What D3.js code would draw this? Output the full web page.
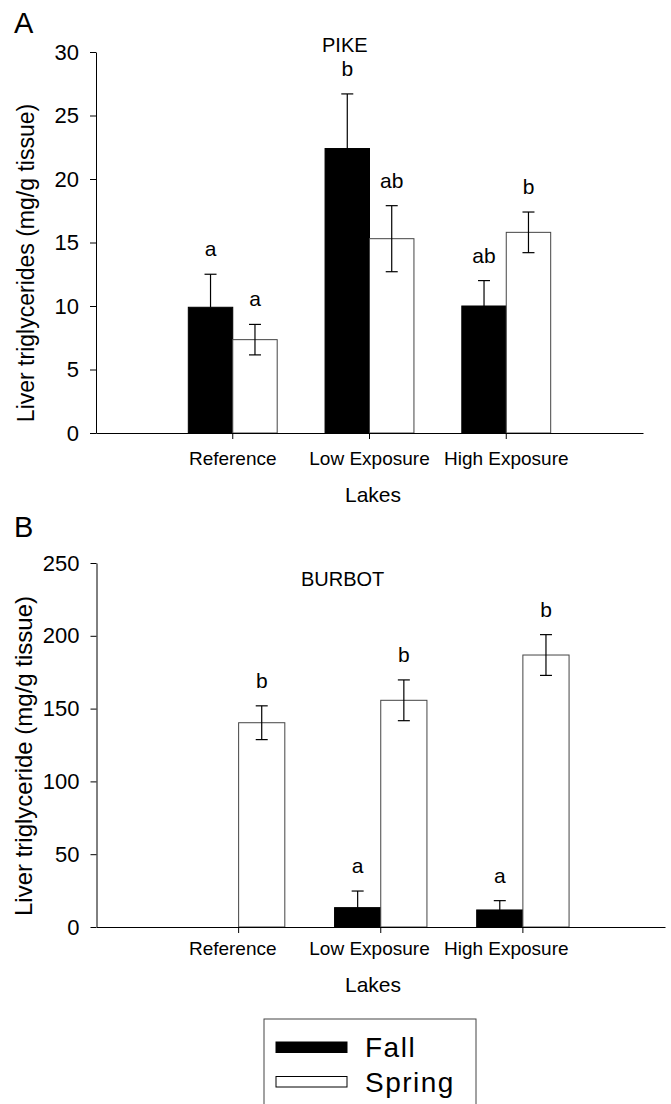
<!DOCTYPE html>
<html>
<head>
<meta charset="utf-8">
<script src="https://cdn.jsdelivr.net/npm/d3@7"></script>
<style>
  body { margin: 0; background: #fff; }
  text { font-family: "Liberation Sans", Arial, sans-serif; fill: #000; }
</style>
</head>
<body>
<div id="chart"></div>
<script>
// data
const lakes = ["Reference", "Low Exposure", "High Exposure"];
const seasons = ["Fall", "Spring"];

const pikeFall = [9.9, 22.4, 10.0];
const pikeFallErr = [2.6, 4.3, 2.0];
const pikeSpring = [7.35, 15.3, 15.8];
const pikeSpringErr = [1.2, 2.6, 1.6];
const pikeFallLetters = ["a", "b", "ab"];
const pikeSpringLetters = ["a", "ab", "b"];
const pikeTicks = [0, 5, 10, 15, 20, 25, 30];

const burbotFall = [null, 13.3, 11.7];
const burbotFallErr = [null, 11.4, 6.4];
const burbotSpring = [140.3, 155.7, 186.8];
const burbotSpringErr = [11.6, 14, 14];
const burbotFallLetters = ["", "a", "a"];
const burbotSpringLetters = ["b", "b", "b"];
const burbotTicks = [0, 50, 100, 150, 200, 250];

var width = 671, height = 1104;

var svg = d3.select("#chart")
  .append("svg")
  .attr("width", width)
  .attr("height", height);

// x scale of panel A, also used for the category labels of both panels
var xA = d3.scaleBand().domain(lakes).range([96, 643]).paddingInner(0).paddingOuter(0.5);
var xB = d3.scaleBand().domain(lakes).range([96.5, 665]).paddingInner(0).paddingOuter(0.5);

function drawPanel(p) {
  var g = svg.append("g");
  var x = p.x;
  var y = d3.scaleLinear().domain([p.ticks[0], p.ticks[p.ticks.length - 1]]).range(p.yRange);
  var barW = x.step() * 0.325;
  var cx = d => x(d) + x.bandwidth() / 2;

  var rows = [];
  lakes.forEach((lake, i) => {
    rows.push({ lake: lake, season: "Fall", v: p.fall[i], e: p.fallErr[i], l: p.fallLetters[i], off: -barW });
    rows.push({ lake: lake, season: "Spring", v: p.spring[i], e: p.springErr[i], l: p.springLetters[i], off: 0 });
  });
  var shown = rows.filter(d => d.v != null);

  // bars
  g.selectAll("rect.bar")
    .data(shown)
    .enter()
    .append("rect")
    .attr("class", "bar")
    .attr("x", d => cx(d.lake) + d.off)
    .attr("y", d => y(d.v))
    .attr("width", barW)
    .attr("height", d => y(0) - y(d.v))
    .attr("fill", d => d.season == "Fall" ? "#000" : "#fff")
    .attr("stroke", d => d.season == "Fall" ? "#000" : "#444")
    .attr("stroke-width", 1);

  // error bars (upper only for fall, both ways for spring)
  var cap = 6;
  shown.forEach(d => {
    var ex = cx(d.lake) + d.off + barW / 2;
    var top = y(d.v + d.e);
    var bot = d.season == "Fall" ? y(d.v) : y(d.v - d.e);
    g.append("line").attr("x1", ex).attr("x2", ex).attr("y1", top).attr("y2", bot)
      .attr("stroke", "#000").attr("stroke-width", 1.2);
    g.append("line").attr("x1", ex - cap).attr("x2", ex + cap).attr("y1", top).attr("y2", top)
      .attr("stroke", "#000").attr("stroke-width", 1.2);
    if (d.season == "Spring") {
      g.append("line").attr("x1", ex - cap).attr("x2", ex + cap).attr("y1", bot).attr("y2", bot)
        .attr("stroke", "#000").attr("stroke-width", 1.2);
    }
  });

  // significance letters
  g.selectAll("text.letter")
    .data(shown.filter(d => d.l))
    .enter()
    .append("text")
    .attr("class", "letter")
    .attr("x", d => cx(d.lake) + d.off + barW / 2)
    .attr("y", d => y(d.v + d.e) - 18)
    .attr("text-anchor", "middle")
    .attr("font-size", "21px")
    .text(d => d.l);

  // y axis
  var yAxis = g.append("g")
    .attr("transform", "translate(" + p.yAxisX + ",0)")
    .call(d3.axisLeft(y).tickValues(p.ticks).tickSize(6).tickSizeOuter(0).tickPadding(11));
  yAxis.selectAll("text").attr("font-size", "22px").attr("font-family", "Liberation Sans, Arial, sans-serif").attr("fill", "#000");
  yAxis.selectAll("line,path").attr("stroke", "#000");

  // x axis
  var xAxis = g.append("g")
    .attr("transform", "translate(0," + y(0) + ")")
    .call(d3.axisBottom(x).tickSize(6).tickSizeOuter(0).tickFormat(""));
  xAxis.selectAll("line,path").attr("stroke", "#000");

  // category labels
  g.selectAll("text.cat")
    .data(lakes)
    .enter()
    .append("text")
    .attr("class", "cat")
    .attr("x", d => xA(d) + xA.bandwidth() / 2)
    .attr("y", p.catY)
    .attr("text-anchor", "middle")
    .attr("font-size", "19px")
    .text(d => d);

  g.append("text")
    .attr("x", 373)
    .attr("y", p.catY + 37)
    .attr("text-anchor", "middle")
    .attr("font-size", "21px")
    .text("Lakes");

  g.append("text")
    .attr("transform", "translate(" + p.yTitleX + "," + p.yTitleY + ") rotate(-90)")
    .attr("text-anchor", "middle")
    .attr("font-size", p.yTitleSize)
    .text(p.yTitle);

  g.append("text")
    .attr("x", p.titleX)
    .attr("y", p.titleY)
    .attr("font-size", "20px")
    .text(p.title);

  g.append("text")
    .attr("x", 14)
    .attr("y", p.letterY)
    .attr("font-size", "29px")
    .text(p.panel);
}

drawPanel({
  panel: "A", letterY: 33,
  title: "PIKE", titleX: 322, titleY: 52,
  x: xA, yRange: [433, 52], yAxisX: 96, ticks: pikeTicks,
  fall: pikeFall, fallErr: pikeFallErr, spring: pikeSpring, springErr: pikeSpringErr,
  fallLetters: pikeFallLetters, springLetters: pikeSpringLetters,
  catY: 465, yTitle: "Liver triglycerides (mg/g tissue)", yTitleX: 34, yTitleY: 263, yTitleSize: "23px"
});

drawPanel({
  panel: "B", letterY: 537,
  title: "BURBOT", titleX: 301, titleY: 586,
  x: xB, yRange: [927, 563], yAxisX: 96.5, ticks: burbotTicks,
  fall: burbotFall, fallErr: burbotFallErr, spring: burbotSpring, springErr: burbotSpringErr,
  fallLetters: burbotFallLetters, springLetters: burbotSpringLetters,
  catY: 955, yTitle: "Liver triglyceride (mg/g tissue)", yTitleX: 32, yTitleY: 756, yTitleSize: "24px"
});

// legend
var legend = svg.append("g");
legend.append("rect")
  .attr("x", 264).attr("y", 1019).attr("width", 212).attr("height", 100)
  .attr("fill", "none").attr("stroke", "#444").attr("stroke-width", 1);

legend.selectAll("rect.sw")
  .data(seasons)
  .enter()
  .append("rect")
  .attr("class", "sw")
  .attr("x", 276)
  .attr("y", (d, i) => 1042 + i * 34.5)
  .attr("width", 71)
  .attr("height", 10.5)
  .attr("fill", d => d == "Fall" ? "#000" : "#fff")
  .attr("stroke", "#000")
  .attr("stroke-width", 1);

legend.selectAll("text.lg")
  .data(seasons)
  .enter()
  .append("text")
  .attr("class", "lg")
  .attr("x", 365)
  .attr("y", (d, i) => 1057 + i * 35)
  .attr("font-size", "28px")
  .attr("letter-spacing", "1.5px")
  .text(d => d);
</script>
</body>
</html>
